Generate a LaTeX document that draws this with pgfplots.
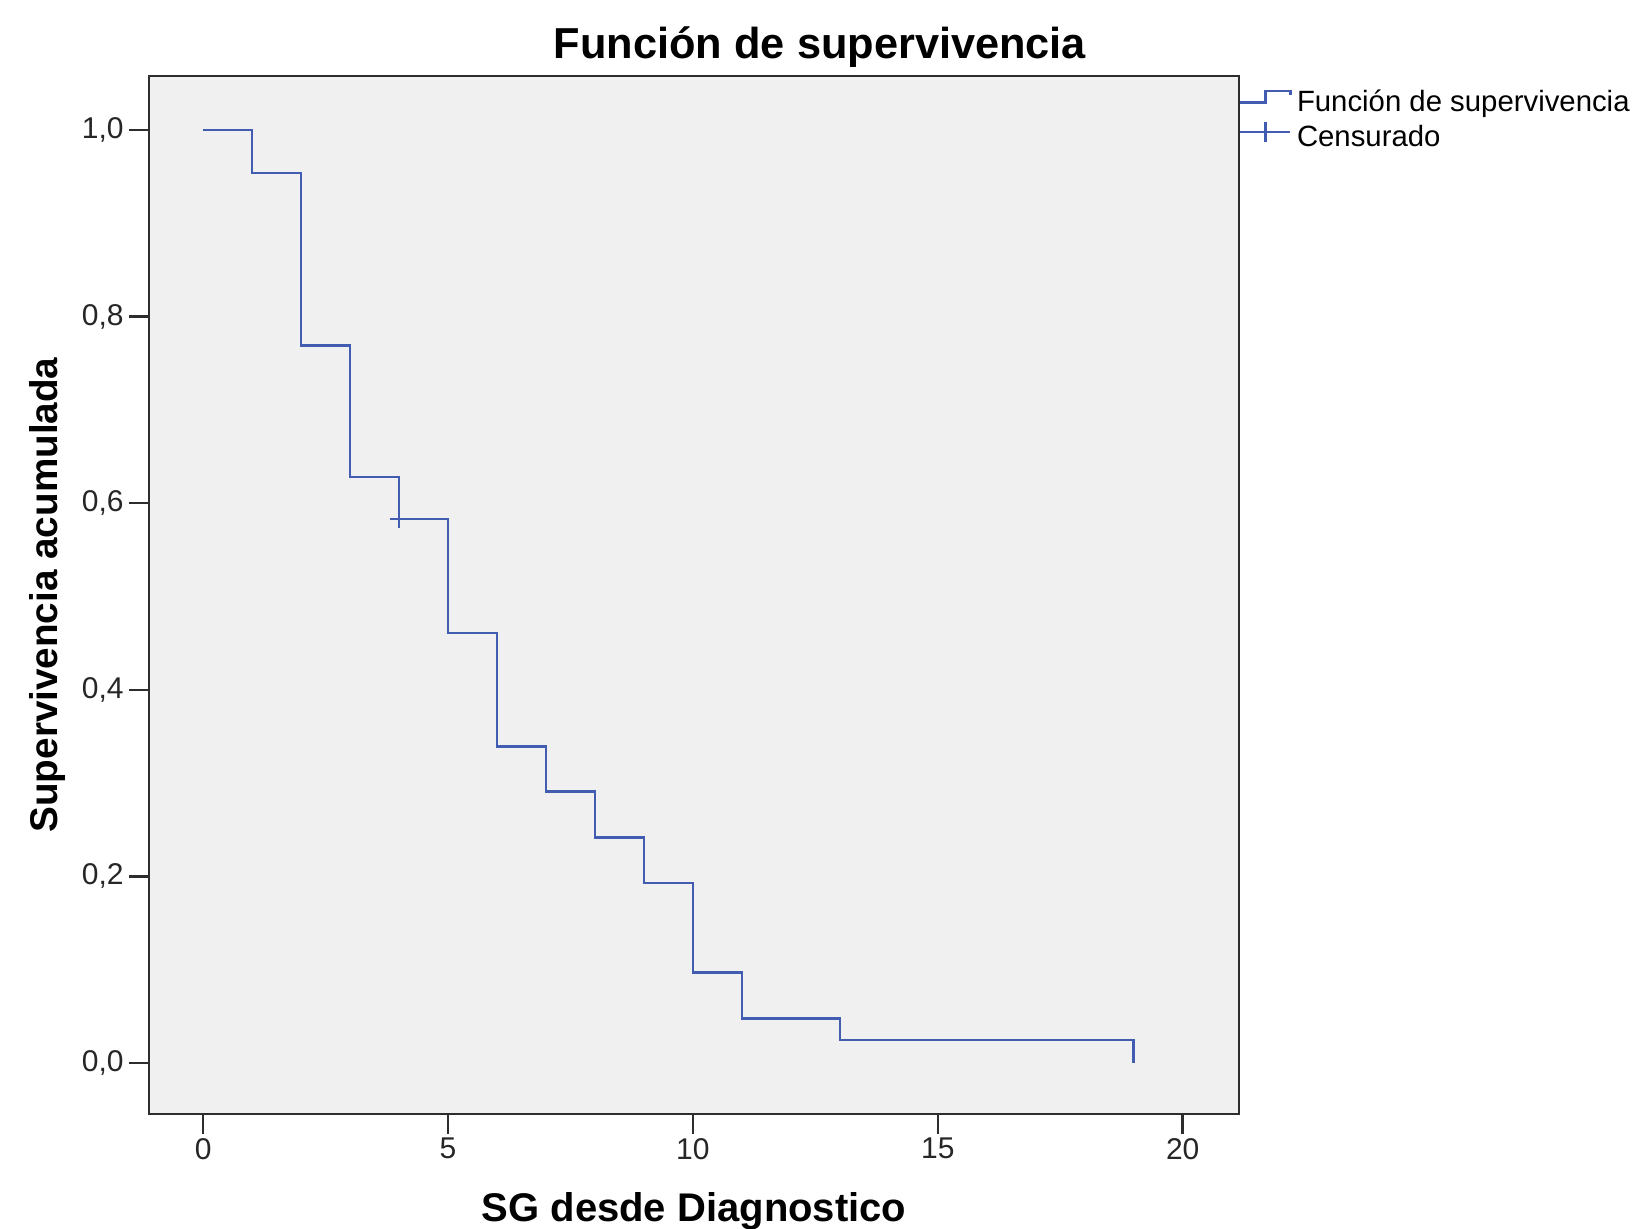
\documentclass[border=0pt]{standalone}
\usepackage{pgfplots}
\pgfplotsset{compat=1.18}
\usepackage{fontspec}
\setmainfont{Liberation Sans}
\definecolor{kmblue}{RGB}{66,92,178}
\definecolor{bgfill}{RGB}{240,240,240}
\definecolor{frame}{RGB}{45,45,45}
\begin{document}
\begin{tikzpicture}
\begin{axis}[
  scale only axis,
  width=327pt, height=311.4pt,
  xmin=-1.105, xmax=21.15,
  ymin=-0.0547, ymax=1.058,
  axis background/.style={fill=bgfill},
  axis line style={draw=frame, line width=0.75pt},
  tick align=outside,
  tick pos=left,
  major tick length=6pt,
  major tick style={draw=frame, line width=0.75pt},
  xtick={0,5,10,15,20},
  ytick={0,0.2,0.4,0.6,0.8,1.0},
  /pgf/number format/assume math mode=true,
  yticklabel style={inner xsep=1.4pt, /pgf/number format/.cd, fixed, fixed zerofill, precision=1, use comma},
  xticklabel style={inner ysep=1.1pt},
  ticklabel style={font=\fontsize{9}{10}\selectfont, text=black!85},
  every axis title shift=0pt,
  title={Función de supervivencia},
  title style={font=\fontsize{13}{15}\selectfont\bfseries, at={(axis description cs:0.6156,1.0164)}, anchor=base},
  xlabel={SG desde Diagnostico},
  xlabel style={font=\fontsize{12}{14}\selectfont\bfseries, at={(axis description cs:0.5,-0.104)}, anchor=base},
  ylabel={Supervivencia acumulada},
  ylabel style={font=\fontsize{11.6}{14}\selectfont\bfseries, at={(axis description cs:-0.0844,0.5)}, anchor=base, rotate=0},
  legend style={at={(axis description cs:1,1)}, anchor=north west, draw=none, fill=none,
    inner sep=0pt, outer sep=0pt, row sep=0pt, yshift=-3.5pt,
    font=\fontsize{8.8}{10}\selectfont,
    nodes={inner sep=0.6pt, text height=6.5pt, text depth=2.1pt}},
  legend cell align=left,
  clip=false,
]
\coordinate (bl) at (rel axis cs:0,0);
\addplot[kmblue, line width=0.8pt, const plot, mark=none,
  legend image code/.code={\draw[kmblue, line width=0.8pt] (0pt,0.5pt) -- (7.5pt,0.5pt) -- (7.5pt,3.9pt) -- (15pt,3.9pt) -- (15pt,2.6pt); \path (16pt,0pt);}]
coordinates {
(0,1.0) (1,0.954) (2,0.769) (3,0.628) (4,0.583) (5,0.461) (6,0.339)
(7,0.291) (8,0.242) (9,0.193) (10,0.097) (11,0.048) (13,0.0245) (19,0.0)
};
\addlegendentry{Función de supervivencia}
\addplot[kmblue, line width=0.8pt, only marks, mark=+, mark size=2.8pt,
  legend image code/.code={\draw[kmblue, line width=0.8pt] (0pt,2.2pt) -- (15pt,2.2pt); \draw[kmblue, line width=0.8pt] (7.5pt,-0.9pt) -- (7.5pt,5.3pt); \path (16pt,0pt);}]
coordinates {(4,0.583)};
\addlegendentry{Censurado}
\end{axis}
\pgfresetboundingbox
\path (bl) ++(-44.7pt,-34.5pt) rectangle ++(489.6pt,368.7pt);
\end{tikzpicture}
\end{document}
